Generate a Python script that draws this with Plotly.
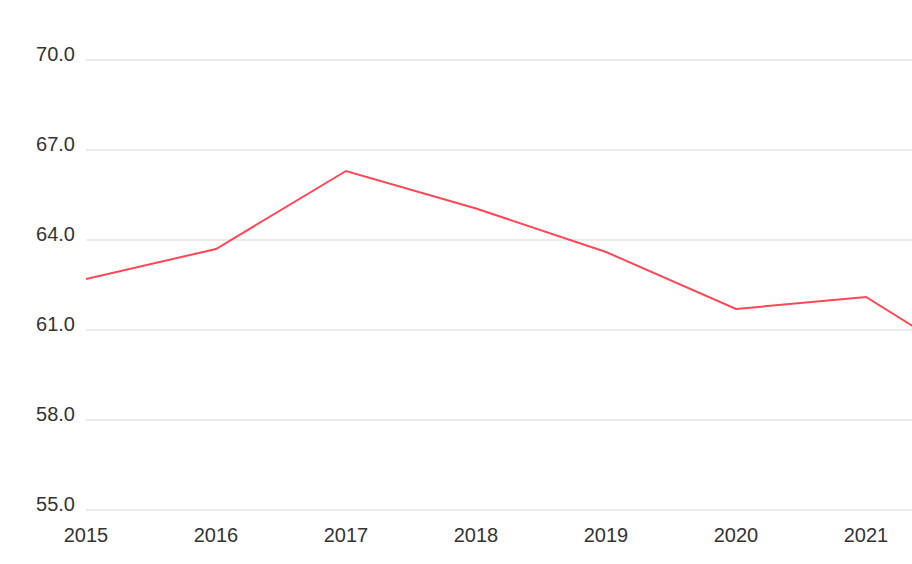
import plotly.graph_objects as go

years = [2015, 2016, 2017, 2018, 2019, 2020, 2021, 2022]
values = [62.7, 63.7, 66.3, 65.05, 63.6, 61.7, 62.1, 59.4]
y_ticks = [55, 58, 61, 64, 67, 70]
y_tick_labels = ["55.0", "58.0", "61.0", "64.0", "67.0", "70.0"]
x_ticks = [2015, 2016, 2017, 2018, 2019, 2020, 2021]

eps = 2 / 30

fig = go.Figure()
fig.add_trace(go.Scatter(
    x=years, y=values, mode="lines",
    line=dict(color="#ff4757", width=2),
    showlegend=False,
))

fig.update_layout(
    width=912, height=564,
    margin=dict(l=86, r=0, t=58, b=52, pad=0),
    paper_bgcolor="white", plot_bgcolor="white",
    font=dict(family="Liberation Sans, Arial, Helvetica, sans-serif", size=20, color="#333333"),
    showlegend=False,
)
fig.update_xaxes(
    range=[2015, 2015 + 826 / 130],
    tickvals=x_ticks, ticktext=[str(v) for v in x_ticks],
    showgrid=False, zeroline=False, showline=False,
    ticks="", ticklabelstandoff=9,
)
fig.update_yaxes(
    range=[55 - eps, 70 + eps],
    tickvals=y_ticks, ticktext=y_tick_labels,
    showgrid=True, gridcolor="#ebebeb", gridwidth=2,
    zeroline=False, showline=False,
    ticks="", ticklabelstandoff=10, ticklabelshift=-6,
)

fig.write_html(
    "out.html",
    config={"displayModeBar": False},
    post_script="document.body.style.margin='0';document.body.style.overflow='hidden';",
)
